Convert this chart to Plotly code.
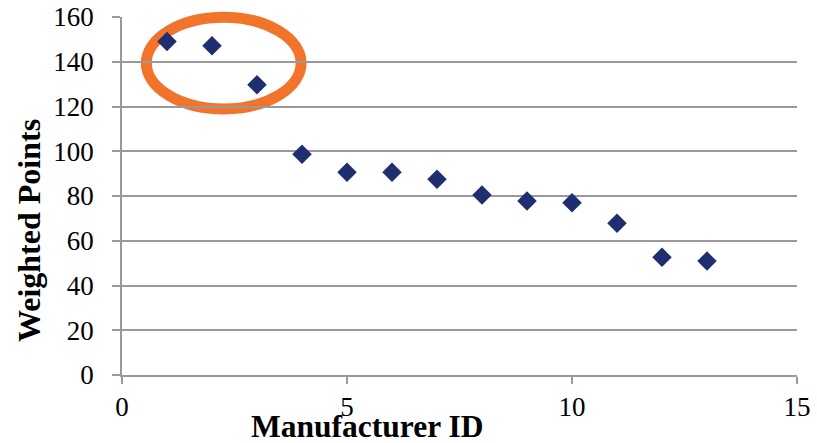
import plotly.graph_objects as go

# Manufacturer scores
manufacturer_id = [1, 2, 3, 4, 5, 6, 7, 8, 9, 10, 11, 12, 13]
weighted_points = [149.0, 147.1, 129.7, 98.7, 90.6, 90.6, 87.5, 80.4, 77.8, 77.0, 67.8, 52.6, 50.9]

x_ticks = [0, 5, 10, 15]
y_ticks = [0, 20, 40, 60, 80, 100, 120, 140, 160]

X_RANGE = [0, 15]
Y_RANGE = [0, 160]

# highlight ring around the top three manufacturers (data units)
ring_x = [0.54, 3.98]
ring_y = [118.9, 159.9]

GRID = "#999999"
NAVY = "#1F2E6E"
ORANGE = "#F2742B"
FONT = "Liberation Serif"


def to_paper(v, rng):
    return (v - rng[0]) / (rng[1] - rng[0])


fig = go.Figure()
fig.add_trace(go.Scatter(
    x=manufacturer_id,
    y=weighted_points,
    mode="markers",
    marker=dict(symbol="diamond", size=15, color=NAVY, line=dict(width=0)),
    showlegend=False,
))

# paper-referenced so the thick ring is not clipped at the top of the plot
fig.add_shape(
    type="circle", xref="paper", yref="paper",
    x0=to_paper(ring_x[0], X_RANGE), x1=to_paper(ring_x[1], X_RANGE),
    y0=to_paper(ring_y[0], Y_RANGE), y1=to_paper(ring_y[1], Y_RANGE),
    line=dict(color=ORANGE, width=11),
    layer="below",
)

fig.update_xaxes(
    range=X_RANGE, tickvals=x_ticks, ticktext=[str(v) for v in x_ticks],
    showgrid=False, zeroline=False, automargin=False,
    showline=True, linecolor=GRID, linewidth=1.5,
    ticks="outside", ticklen=7, tickwidth=1.5, tickcolor=GRID,
    tickfont=dict(family=FONT, size=27, color="#000000"),
)
fig.update_yaxes(
    range=Y_RANGE, tickvals=y_ticks, ticktext=[str(v) for v in y_ticks],
    showgrid=True, gridcolor=GRID, gridwidth=1.5,
    zeroline=False, automargin=False,
    showline=True, linecolor=GRID, linewidth=1.5,
    ticks="outside", ticklen=8, tickwidth=1.5, tickcolor=GRID,
    ticklabelstandoff=13,
    tickfont=dict(family=FONT, size=27, color="#000000"),
)

fig.add_annotation(
    text="<b>Manufacturer ID</b>", xref="paper", yref="paper",
    x=0.3636, y=-0.1425, xanchor="center", yanchor="middle",
    showarrow=False, font=dict(family=FONT, size=31.5, color="#000000"),
)
fig.add_annotation(
    text="<b>Weighted Points</b>", xref="paper", yref="paper",
    x=-0.1385, y=0.4036, xanchor="center", yanchor="middle", textangle=-90,
    showarrow=False, font=dict(family=FONT, size=32, color="#000000"),
)

fig.update_layout(
    width=817, height=443,
    margin=dict(l=122, r=20, t=17, b=68),
    paper_bgcolor="white", plot_bgcolor="white",
)

fig.write_html("out.html")
